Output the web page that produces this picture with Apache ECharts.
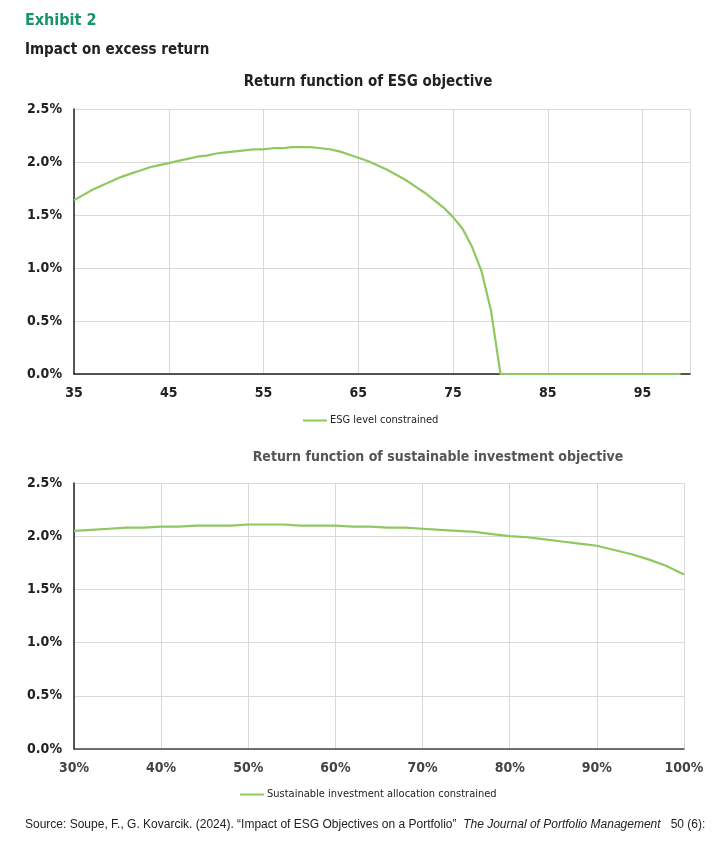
<!DOCTYPE html>
<html>
<head>
<meta charset="utf-8">
<script src="https://cdn.jsdelivr.net/npm/echarts@6/dist/echarts.min.js"></script>
<style>
html,body{margin:0;padding:0;background:#fff;}
#c{width:725px;height:846px;}
</style>
</head>
<body>
<div id="c"></div>
<script>
// ---- Data ----
var esgLevels = [35,36,37,38,39,40,41,42,43,44,45,46,47,48,49,50,51,52,53,54,55,56,57,58,59,60,61,62,63,64,65,66,67,68,69,70,71,72,73,74,75,76,77,78,79,80,81,82,83,84,85,86,87,88,89,90,91,92,93,94,95,96,97,98,99];
var esgReturn = [1.64,1.69,1.74,1.78,1.82,1.86,1.89,1.92,1.95,1.97,1.99,2.01,2.03,2.05,2.06,2.08,2.09,2.10,2.11,2.12,2.12,2.13,2.13,2.14,2.14,2.14,2.13,2.12,2.10,2.07,2.04,2.01,1.97,1.93,1.88,1.83,1.77,1.71,1.64,1.57,1.48,1.37,1.20,0.97,0.60,0.00,0,0,0,0,0,0,0,0,0,0,0,0,0,0,0,0,0,0,0];
var siAlloc = [30,32,34,36,38,40,42,44,46,48,50,52,54,56,58,60,62,64,66,68,70,72,74,76,78,80,82,84,86,88,90,92,94,96,98,100];
var siReturn = [2.05,2.06,2.07,2.08,2.08,2.09,2.09,2.10,2.10,2.10,2.11,2.11,2.11,2.10,2.10,2.10,2.09,2.09,2.08,2.08,2.07,2.06,2.05,2.04,2.02,2.00,1.99,1.97,1.95,1.93,1.91,1.87,1.83,1.78,1.72,1.64];
var yTicks = [0, 0.5, 1.0, 1.5, 2.0, 2.5];
var seriesNames = ['ESG level constrained', 'Sustainable investment allocation constrained'];

function pairs(xs, ys){ return xs.map(function(x,i){ return [x, ys[i]]; }); }

var FONT = '"Liberation Sans Narrow","DejaVu Sans Condensed","Liberation Sans",sans-serif';
var SRCFONT = '"Liberation Sans Narrow","Liberation Sans",sans-serif';
var GREEN = '#8fc760';

var chart = echarts.init(document.getElementById('c'), null, {renderer:'canvas'});

function yAxis(gi){
  return {
    type:'value', gridIndex:gi, min:yTicks[0], max:yTicks[yTicks.length-1], interval:0.5,
    axisLine:{show:true, lineStyle:{color:'#222', width:1.5}},
    axisTick:{show:false},
    splitLine:{show:true, lineStyle:{color:'#d9d9d9', width:1}},
    axisLabel:{color:'#222', fontFamily:FONT, fontWeight:'bold', fontSize:14, margin:12,
      formatter:function(v){ return v.toFixed(1)+'%'; }}
  };
}

chart.setOption({
  animation:false,
  backgroundColor:'#fff',
  title:[
    {text:'Exhibit 2', left:25, top:13, padding:0, textStyle:{color:'#17946a', fontFamily:FONT, fontWeight:'bold', fontSize:16}},
    {text:'Impact on excess return', left:25, top:43, padding:0, textStyle:{color:'#222', fontFamily:FONT, fontWeight:'bold', fontSize:15}},
    {text:'Return function of ESG objective', left:368, textAlign:'center', top:75, padding:0, textStyle:{color:'#222', fontFamily:FONT, fontWeight:'bold', fontSize:15}},
    {text:'Return function of sustainable investment objective', left:438, textAlign:'center', top:450, padding:0, textStyle:{color:'#555', fontFamily:FONT, fontWeight:'bold', fontSize:14}}
  ],
  legend:[
    {data:[seriesNames[0]], left:298, top:410, icon:'rect', itemWidth:24, itemHeight:2, itemGap:4,
      textStyle:{color:'#222', fontFamily:FONT, fontSize:11, padding:[0,0,0,-2]}},
    {data:[seriesNames[1]], left:235, top:784, icon:'rect', itemWidth:24, itemHeight:2, itemGap:4,
      textStyle:{color:'#222', fontFamily:FONT, fontSize:11, padding:[0,0,0,-2]}}
  ],
  grid:[
    {left:74, right:35, top:109, height:265},
    {left:74, right:41, top:483, height:266}
  ],
  xAxis:[
    {type:'value', gridIndex:0, min:35, max:100, interval:10,
      axisLine:{show:true, onZero:false, lineStyle:{color:'#222', width:1.5}},
      axisTick:{show:false},
      splitLine:{show:true, lineStyle:{color:'#d9d9d9', width:1}},
      axisLabel:{color:'#222', fontFamily:FONT, fontWeight:'bold', fontSize:14, margin:12, showMaxLabel:false}},
    {type:'value', gridIndex:1, min:30, max:100, interval:10,
      axisLine:{show:true, onZero:false, lineStyle:{color:'#444', width:1.5}},
      axisTick:{show:false},
      splitLine:{show:true, lineStyle:{color:'#d9d9d9', width:1}},
      axisLabel:{color:'#444', fontFamily:FONT, fontWeight:'bold', fontSize:14, margin:12,
        formatter:function(v){ return v+'%'; }}}
  ],
  yAxis:[yAxis(0), yAxis(1)],
  series:[
    {name:seriesNames[0], type:'line', xAxisIndex:0, yAxisIndex:0, data:pairs(esgLevels, esgReturn),
      symbol:'none', smooth:false, lineStyle:{color:GREEN, width:2.2}, itemStyle:{color:GREEN}},
    {name:seriesNames[1], type:'line', xAxisIndex:1, yAxisIndex:1, data:pairs(siAlloc, siReturn),
      symbol:'none', smooth:false, lineStyle:{color:GREEN, width:2.2}, itemStyle:{color:GREEN}}
  ],
  graphic:[
    {type:'text', left:25, top:819, style:{
      text:'{n|Source: Soupe, F., G. Kovarcik. (2024). \u201cImpact of ESG Objectives on a Portfolio\u201d  }{i|The Journal of Portfolio Management}{n|   50 (6):}',
      rich:{
        n:{fontFamily:SRCFONT, fontSize:12, fill:'#222', color:'#222'},
        i:{fontFamily:SRCFONT, fontSize:12, fontStyle:'italic', fill:'#222', color:'#222'}
      }
    }}
  ]
});
</script>
</body>
</html>
